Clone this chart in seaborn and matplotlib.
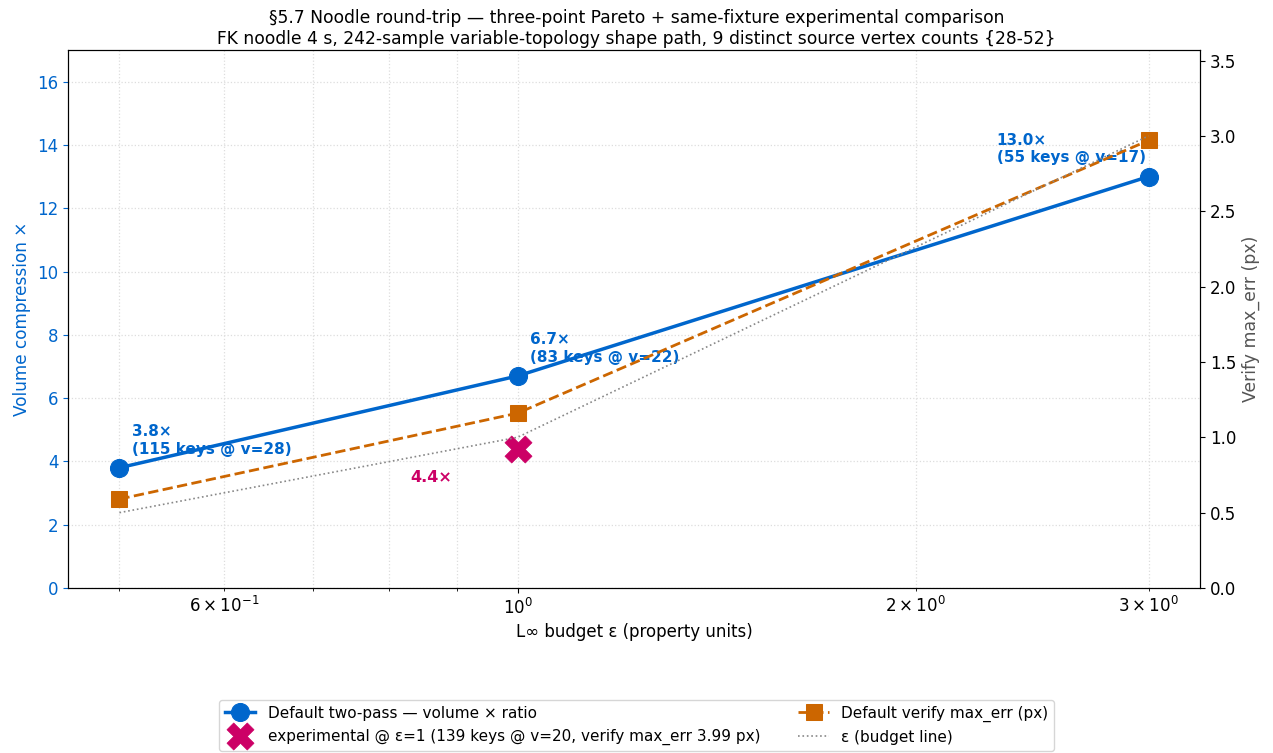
import matplotlib
matplotlib.use("Agg")
import matplotlib.pyplot as plt
import seaborn as sns
import pandas as pd

# ---- data ----
eps = [0.5, 1.0, 3.0]
volume_ratio = [3.8, 6.7, 13.0]
keys = [115, 83, 55]
vcount = [28, 22, 17]
verify_err = [0.59, 1.16, 2.97]
exp_eps = [1.0]
exp_ratio = [4.38]

BLUE = "#0066CC"
ORANGE = "#CC6600"
MAGENTA = "#CC0066"
GRAY = "#888888"

fig = plt.figure(figsize=(12.73, 7.53), dpi=100)
ax = fig.add_axes([68 / 1273, 1 - 588 / 753, (1200 - 68) / 1273, (588 - 50) / 753])
ax2 = ax.twinx()

df = pd.DataFrame({"eps": eps, "ratio": volume_ratio, "err": verify_err})

sns.lineplot(data=df, x="eps", y="ratio", ax=ax, color=BLUE, lw=2.5, marker="o",
             markersize=13, markeredgecolor=BLUE, label="Default two-pass — volume × ratio",
             legend=False, zorder=3)
sns.scatterplot(x=exp_eps, y=exp_ratio, ax=ax, color=MAGENTA, marker="X", s=380,
                edgecolor=MAGENTA, linewidth=0.5, zorder=4,
                label="experimental @ ε=1 (139 keys @ v=20, verify max_err 3.99 px)", legend=False)

sns.lineplot(data=df, x="eps", y="err", ax=ax2, color=ORANGE, lw=2, ls="--", marker="s",
             markersize=11, markeredgecolor=ORANGE, label="Default verify max_err (px)", legend=False)
sns.lineplot(x=eps, y=eps, ax=ax2, color=GRAY, lw=1.2, ls=":", label="ε (budget line)", legend=False)

ax.set_xscale("log")
ax.set_ylim(0, 17)
ax2.set_ylim(0, 3.57)
ax.grid(True, which="both", axis="x", ls=":", color="#dddddd", lw=0.9)
ax.grid(True, which="major", axis="y", ls=":", color="#dddddd", lw=0.9)
ax.set_axisbelow(True)

ax.set_xlabel("L∞ budget ε (property units)", fontsize=12)
ax.set_ylabel("Volume compression ×", color=BLUE, fontsize=12.2)
ax2.set_ylabel("Verify max_err (px)", color="#555555", fontsize=12.4)
ax.tick_params(axis="y", colors=BLUE, labelsize=12)
ax.tick_params(axis="x", which="both", labelsize=12)
ax2.tick_params(axis="y", labelsize=12)
ax.set_yticks([0, 2, 4, 6, 8, 10, 12, 14, 16])
ax2.set_yticks([0, 0.5, 1.0, 1.5, 2.0, 2.5, 3.0, 3.5])

# annotations
for i, (x, y, k, v) in enumerate(zip(eps, volume_ratio, keys, vcount)):
    txt = f"{y:.1f}×\n({k} keys @ v={v})"
    if i == len(eps) - 1:
        ax.annotate(txt, (x, y), xytext=(-2, 8), textcoords="offset points", ha="right", va="bottom",
                    multialignment="left", color=BLUE, fontsize=11, fontweight="bold")
    else:
        ax.annotate(txt, (x, y), xytext=(9, 8), textcoords="offset points", ha="left", va="bottom",
                    color=BLUE, fontsize=11, fontweight="bold")
ax.annotate(f"{exp_ratio[0]:.1f}×", (exp_eps[0], exp_ratio[0]), xytext=(-47, -15),
            textcoords="offset points", ha="right", va="top", color=MAGENTA,
            fontsize=11.5, fontweight="bold")

fig.suptitle("§5.7 Noodle round-trip — three-point Pareto + same-fixture experimental comparison\n"
             "FK noodle 4 s, 242-sample variable-topology shape path, 9 distinct source vertex counts {28-52}",
             fontsize=12.3, y=0.988)

h1, l1 = ax.get_legend_handles_labels()
h2, l2 = ax2.get_legend_handles_labels()
fig.legend(h1 + h2, l1 + l2, loc="upper center", bbox_to_anchor=(0.5, 1 - 692 / 753), ncol=2,
           fontsize=11, columnspacing=2.5)

fig.savefig("out.png", dpi=100)
